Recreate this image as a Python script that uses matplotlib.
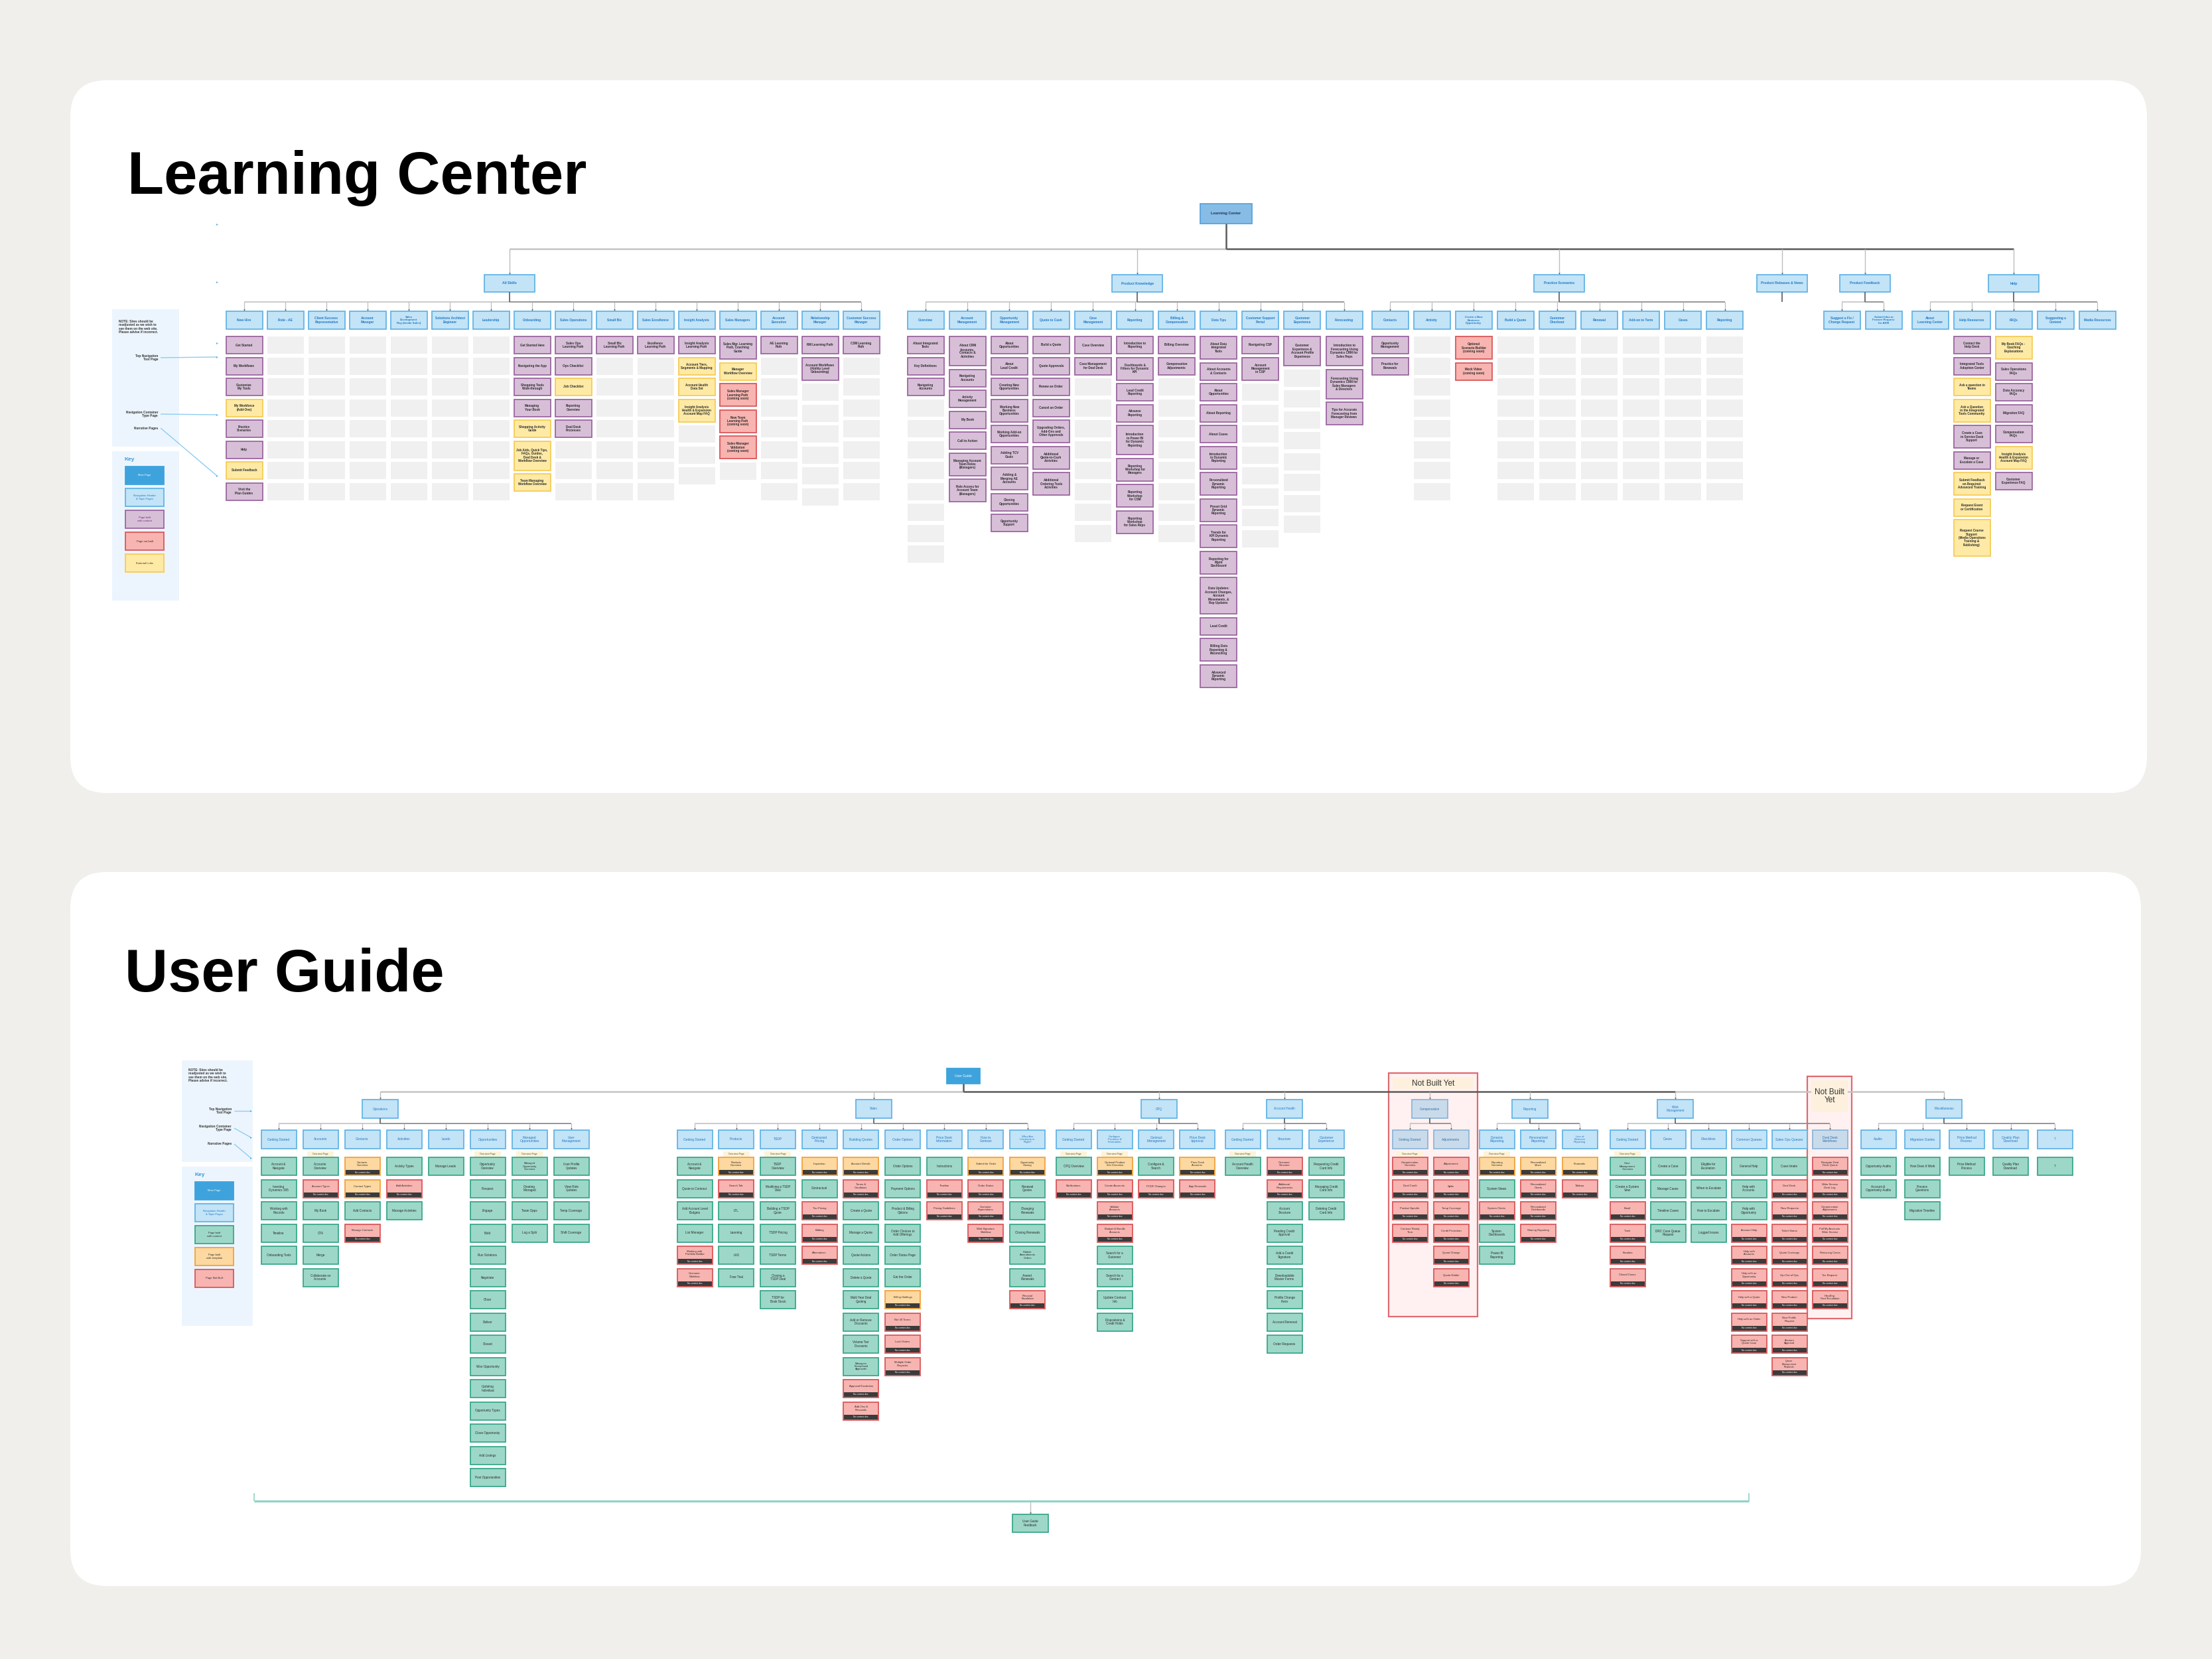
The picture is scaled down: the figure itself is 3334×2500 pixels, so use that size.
import matplotlib
matplotlib.use("Agg")
import matplotlib.pyplot as plt
from matplotlib.patches import Rectangle, FancyBboxPatch

plt.rcParams['font.family'] = ['Liberation Sans', 'DejaVu Sans']

# ---------------------------------------------------------------- data
# item strings are "type|label"; type P=built, Y=external link, R=not built,
# E=empty slot, G=built (user guide), O=built from template
LC_ROOT = "Learning Center"
LC_SECTIONS = ["All Skills", "Product Knowledge", "Practice Scenarios",
               "Product Releases & News", "Product Feedback", "Help"]

AS_TRACKS = ["New Hire", "Role - AE", "Client Success\nRepresentative", "Account\nManager",
             "Sales\nDevelopment\nRep (Inside Sales)", "Solutions Architect\nEngineer", "Leadership",
             "Onboarding", "Sales Operations", "Small Biz", "Sales Excellence", "Insight Analysts",
             "Sales Managers", "Account\nExecutive", "Relationship\nManager", "Customer Success\nManager"]
AS_ITEMS = [
    ["P|Get Started", "P|My Workflows", "P|Customize\nMy Tools", "Y|My Workforce\n(Add-Ons)",
     "P|Practice\nScenarios", "P|Help", "Y|Submit Feedback", "P|Visit the\nPlan Guides"],
    ["E"] * 8, ["E"] * 8, ["E"] * 8, ["E"] * 8, ["E"] * 8, ["E"] * 8,
    ["P|Get Started Here", "P|Navigating the App", "P|Shopping Tools\nWalk-through",
     "P|Managing\nYour Book", "Y|Shopping Activity\nGuide",
     "Y|Job Aids, Quick Tips,\nFAQs, Guides,\nDeal Desk &\nWorkflow Overview",
     "Y|Team Managing\nWorkflow Overview"],
    ["P|Sales Ops\nLearning Path", "P|Ops Checklist", "Y|Job Checklist", "P|Reporting\nOverview",
     "P|Deal Desk\nProcesses", "E", "E", "E"],
    ["P|Small Biz\nLearning Path"] + ["E"] * 7,
    ["P|Excellence\nLearning Path"] + ["E"] * 7,
    ["P|Insight Analysts\nLearning Path", "Y|Account Tiers,\nSegments & Mapping",
     "Y|Account Health\nData Set", "Y|Insight Analysis\nHealth & Expansion\nAccount Map FAQ",
     "E", "E", "E"],
    ["P|Sales Mgr. Learning\nPath, Coaching\nGuide", "Y|Manager\nWorkflow Overview",
     "R|Sales Manager\nLearning Path\n(coming soon)", "R|New Team\nLearning Path\n(coming soon)",
     "R|Sales Manager\nValidation\n(coming soon)", "E"],
    ["P|AE Learning\nPath"] + ["E"] * 7,
    ["P|RM Learning Path", "P|Account Workflows\n(Ability Level\nOnboarding)"] + ["E"] * 6,
    ["P|CSM Learning\nPath"] + ["E"] * 7,
]

PK_TOPICS = ["Overview", "Account\nManagement", "Opportunity\nManagement", "Quote to Cash",
             "Case\nManagement", "Reporting", "Billing &\nCompensation", "Data Tips",
             "Customer Support\nPortal", "Customer\nExperience", "Forecasting"]
PK_ITEMS = [
    ["P|About Integrated\nTools", "P|Key Definitions", "P|Navigating\nAccounts"] + ["E"] * 8,
    ["P|About CRM\nAccounts,\nContacts &\nActivities", "P|Navigating\nAccounts", "P|Activity\nManagement",
     "P|My Book", "P|Call to Action", "P|Managing Account\nTeam Roles\n(Managers)",
     "P|Role Access for\nAccount Team\n(Managers)"],
    ["P|About\nOpportunities", "P|About\nLead Credit", "P|Creating New\nOpportunities",
     "P|Working New\nBusiness\nOpportunities", "P|Working Add-on\nOpportunities", "P|Adding TCV\nGoals",
     "P|Adding &\nMerging AE\nAccounts", "P|Closing\nOpportunities", "P|Opportunity\nSupport"],
    ["P|Build a Quote", "P|Quote Approvals", "P|Renew an Order", "P|Cancel an Order",
     "P|Upgrading Orders,\nAdd-Ons and\nOther Approvals", "P|Additional\nQuote-to-Cash\nActivities",
     "P|Additional\nOrdering Tools\nActivities"],
    ["P|Case Overview", "P|Case Management\nfor Deal Desk"] + ["E"] * 8,
    ["P|Introduction to\nReporting", "P|Dashboards &\nFilters for Dynamic\nKPI", "P|Lead Credit\nReporting",
     "P|Advance\nReporting", "P|Introduction\nto Power BI\nfor Dynamic\nReporting",
     "P|Reporting\nWorkshop for\nManagers", "P|Reporting\nWorkshop\nfor CSM",
     "P|Reporting\nWorkshop\nfor Sales Reps"],
    ["P|Billing Overview", "P|Compensation\nAdjustments"] + ["E"] * 8,
    ["P|About Data\nIntegrated\nTools", "P|About Accounts\n& Contacts", "P|About\nOpportunities",
     "P|About Reporting", "P|About Cases", "P|Introduction\nto Dynamic\nReporting",
     "P|Personalized\nDynamic\nReporting", "P|Preset Grid\nDynamic\nReporting",
     "P|Trends for\nKPI Dynamic\nReporting", "P|Reporting for\nMgmt\nDashboard",
     "P|Data Updates:\nAccount Changes,\nAccount\nMovements, &\nRep Updates", "P|Lead Credit",
     "P|Billing Data\nReporting &\nReconciling", "P|Advanced\nDynamic\nReporting"],
    ["P|Navigating CSP", "P|Account\nManagement\nin CSP"] + ["E"] * 8,
    ["P|Customer\nExperience &\nAccount Profile\nExperience"] + ["E"] * 8,
    ["P|Introduction to\nForecasting Using\nDynamics CRM for\nSales Reps",
     "P|Forecasting Using\nDynamics CRM for\nSales Managers\n& Directors",
     "P|Tips for Accurate\nForecasting from\nManager Reviews"],
]

PS_TOPICS = ["Contacts", "Activity", "Create a New\nBusiness\nOpportunity", "Build a Quote",
             "Customer\nCheckout", "Renewal", "Add-on to Term", "Cases", "Reporting"]
PS_ITEMS = [
    ["P|Opportunity\nManagement", "P|Practice for\nRenewals"],
    ["E"] * 8,
    ["R|Optional\nScenario Builder\n(coming soon)", "R|Mock Video\n(coming soon)"],
    ["E"] * 8, ["E"] * 8, ["E"] * 8, ["E"] * 8, ["E"] * 8, ["E"] * 8,
]

PF_TOPICS = ["Suggest a Fix /\nChange Request", "Submit Idea or\nFeature Request\nfor AEM"]
PF_ITEMS = [[], []]

HELP_TOPICS = ["About\nLearning Center", "Help Resources", "FAQs", "Suggesting a\nContent",
               "Media Resources"]
HELP_ITEMS = [
    [],
    ["P|Contact the\nHelp Desk", "P|Integrated Tools\nAdoption Center", "Y|Ask a question in\nTeams",
     "Y|Ask a Question\nin the Integrated\nTools Community", "P|Create a Case\nin Service Desk\nSupport",
     "P|Manage or\nEscalate a Case", "Y|Submit Feedback\non Required\nAdvanced Training",
     "Y|Request Event\nor Certification",
     "Y|Request Course\nSupport\n(Media Operations\nTraining &\nPublishing)"],
    ["Y|My Book FAQs -\nCoaching\nExplanations", "P|Sales Operations\nFAQs", "P|Data Accuracy\nFAQs",
     "P|Migration FAQ", "P|Compensation\nFAQs", "Y|Insight Analysis\nHealth & Expansion\nAccount Map FAQ",
     "P|Customer\nExperience FAQ"],
    [], [],
]

LC_CHILDREN = [AS_TRACKS, PK_TOPICS, PS_TOPICS, [], PF_TOPICS, HELP_TOPICS]
LC_ITEMS = [AS_ITEMS, PK_ITEMS, PS_ITEMS, [], PF_ITEMS, HELP_ITEMS]

UG_ROOT = "User Guide"
UG_SECTIONS = ["Operations", "Sales", "CPQ", "Account Health", "Compensation", "Reporting",
               "Work\nManagement", "Miscellaneous"]

OPS_TOPICS = ["Getting Started", "Accounts", "Contacts", "Activities", "Leads", "Opportunities",
              "Managed\nOpportunities", "User\nManagement"]
OPS_ITEMS = [
    ["G|Account &\nNavigate", "G|Inserting\nDynamics 365", "G|Working with\nRecords", "G|Timeline",
     "G|Onboarding Tools"],
    ["G|Accounts\nOverview", "R|Account Types", "G|My Book", "G|CTA", "G|Merge",
     "G|Collaborate on\nAccounts"],
    ["O|Contacts\nOverview", "O|Contact Types", "G|Add Contacts", "R|Manage Contacts"],
    ["G|Activity Types", "R|Add Activities", "G|Manage Activities"],
    ["G|Manage Leads"],
    ["G|Opportunity\nOverview", "G|Prospect", "G|Engage", "G|Build", "G|Run Solutions", "G|Negotiate",
     "G|Close", "G|Deliver", "G|Closed", "G|Won Opportunity", "G|Updating\nIndividual",
     "G|Opportunity Types", "G|Close Opportunity", "G|Add Listings", "G|Post Opportunities"],
    ["G|Managed\nOpportunity\nOverview", "G|Creating\nManaged", "G|Team Opps", "G|Log a Split"],
    ["G|User Profile\nUpdates", "G|View Role\nUpdates", "G|Temp Coverage", "G|Shift Coverage"],
]
OPS_OVERVIEW = [0, 1, 0, 0, 0, 1, 1, 0]

SALES_TOPICS = ["Getting Started", "Products", "TSDP", "Contracted\nPricing", "Building Quotes",
                "Order Options", "Price Desk\nInformation", "How to\nContract",
                "What Are\nContracts in\nFlight?"]
SALES_ITEMS = [
    ["G|Account &\nNavigate", "G|Quote to Contract", "G|Add Account Level\nBudgets", "G|List Manager",
     "R|Working with\nPortfolio Builder", "R|Customer\nWorkflow"],
    ["O|Products\nOverview", "R|Search Tab", "G|LTL", "G|Learning", "G|LAS", "G|Free Trial"],
    ["G|TSDP\nOverview", "G|Modifying a TSDP\nDeal", "G|Building a TSDP\nQuote", "G|TSDP Pricing",
     "G|TSDP Terms", "G|Closing a\nTSDP Deal", "G|TSDP for\nBook Stock"],
    ["O|Inspection", "G|Contractual", "R|Tier Pricing", "R|Bidding", "R|Alternatives"],
    ["O|Account Details", "R|Terms &\nConditions", "G|Create a Quote", "G|Manage a Quote",
     "G|Quote Actions", "G|Delete a Quote", "G|Multi Year Deal\nQuoting", "G|Add or Remove\nDiscounts",
     "G|Volume Tier\nDiscounts", "G|Managers\nExceptional\nApprovals", "R|Approval Escalation",
     "R|Add-Ons &\nRenewals"],
    ["G|Order Options", "G|Payment Options", "G|Product & Billing\nOptions",
     "G|Order Choices to\nAdd Offerings", "G|Order Status Page", "G|Get the Order", "O|Billing Holdings",
     "R|Net 30 Terms", "R|Lock Orders", "R|Multiple Order\nRequests"],
    ["G|Instructions", "R|Timeline", "R|Pricing Guidelines"],
    ["O|Submit for Order", "R|Order Status", "R|Customer\nExpectations", "R|Web Signature\nWorkflow"],
    ["O|Opportunity\nClosing", "G|Renewal\nQuotes", "G|Changing\nRenewals", "G|Closing Renewals",
     "G|Publish\nAmendments\nOrders", "G|Amend\nRenewals", "R|Renewal\nEscalation"],
]
SALES_OVERVIEW = [0, 1, 1, 0, 0, 0, 0, 0, 0]

CPQ_TOPICS = ["Getting Started", "Configure\nProducts &\nInformation", "Contract\nManagement",
              "Price Desk\nApproval"]
CPQ_ITEMS = [
    ["G|CPQ Overview", "R|Notifications"],
    ["O|Optional Product\nInfo Overview", "R|Create Accounts", "R|Validate\nAccounts",
     "R|Budget & Bundle\nAccounts", "G|Search for a\nCustomer", "G|Search for a\nContract",
     "G|Update Contract\nInfo", "G|Dispositions &\nCredit Holds"],
    ["G|Configure &\nSearch", "R|PCDF Changes"],
    ["O|Price Desk\nAccounts", "R|App Renewals"],
]
CPQ_OVERVIEW = [1, 1, 0, 0]

AH_TOPICS = ["Getting Started", "Structure", "Customer\nExperience"]
AH_ITEMS = [
    ["G|Account Health\nOverview"],
    ["R|Customer\nStructure", "R|Additional\nRequirements", "G|Account\nStructure",
     "G|Pending Credit\nApproval", "G|Add a Credit\nSignature", "G|Downloadable\nMaster Forms",
     "G|Profile Change\nForm", "G|Account Removal", "G|Order Requests"],
    ["G|Requesting Credit\nCard Info", "G|Managing Credit\nCard Info", "G|Deleting Credit\nCard Info"],
]
AH_OVERVIEW = [1, 0, 0]

COMP_TOPICS = ["Getting Started", "Adjustments"]
COMP_ITEMS = [
    ["R|Compensation\nOverview", "R|Deal Credit", "R|Product Specific", "R|Contract Ready\nTerm"],
    ["R|Adjustments", "R|Splits", "R|Temp Coverage", "R|Credit Protection", "R|Quota Change",
     "R|Quota Holder"],
]
COMP_OVERVIEW = [1, 0]

REP_TOPICS = ["Dynamic\nReporting", "Personalized\nReporting", "Line of\nBusiness\nReporting"]
REP_ITEMS = [
    ["O|Reporting\nOverview", "G|System Views", "R|System Charts", "G|System\nDashboards",
     "G|Power BI\nReporting"],
    ["O|Personalized\nViews", "R|Personalized\nCharts", "R|Personalized\nDashboards",
     "R|Sharing Reporting"],
    ["O|Financials", "R|Tableau"],
]
REP_OVERVIEW = [1, 0, 0]

WM_TOPICS = ["Getting Started", "Cases", "Checklists", "Common Queues", "Sales Ops Queues",
             "Deal Desk\nWorkflows"]
WM_ITEMS = [
    ["G|Case\nManagement\nOverview", "G|Create a System\nView", "R|Email", "R|Track", "R|Escalate",
     "R|Closed Cases"],
    ["G|Create a Case", "G|Manage Cases", "G|Timeline Cases", "G|DRC Case Queue\nRequest"],
    ["G|Eligible for\nEscalation", "G|When to Escalate", "G|How to Escalate", "G|Logged Issues"],
    ["G|General Help", "G|Help with\nAccounts", "G|Help with\nOpportunity", "R|Account Help",
     "R|Help with\nAccounts", "R|Help with an\nOpportunity", "R|Help with a Quote",
     "R|Help with an Order", "R|Support with a\nQuote Issue"],
    ["G|Case Intake", "R|Deal Desk", "R|New Requests", "R|Ticket Status", "R|Quote Coverage",
     "R|Opt Out of Ops", "R|New Product", "R|New Profile\nRequest", "R|Account\nApproval",
     "R|Queue\nManagement\nRequests"],
    ["R|Navigate Deal\nDesk Queue", "R|Write Service\nDesk Log", "R|Compensation\nAdjustments",
     "R|Pull My Accounts\nWrite Service", "R|Reissuing Cases", "R|Tax Request",
     "R|Handling\nDeal Escalation"],
]
WM_OVERVIEW = [1, 0, 0, 0, 0, 0]

MISC_TOPICS = ["Audits", "Migration Guides", "Price Method\nProcess", "Quality Plan\nDownload", "?"]
MISC_ITEMS = [
    ["G|Opportunity Audits", "G|Account &\nOpportunity Audits"],
    ["G|How Does It Work", "G|Process\nQuestions", "G|Migration Timeline"],
    ["G|Price Method\nProcess"], ["G|Quality Plan\nDownload"], ["G|?"],
]
MISC_OVERVIEW = [0, 0, 0, 0, 0]

UG_CHILDREN = [OPS_TOPICS, SALES_TOPICS, CPQ_TOPICS, AH_TOPICS, COMP_TOPICS, REP_TOPICS,
               WM_TOPICS, MISC_TOPICS]
UG_ITEMS = [OPS_ITEMS, SALES_ITEMS, CPQ_ITEMS, AH_ITEMS, COMP_ITEMS, REP_ITEMS, WM_ITEMS, MISC_ITEMS]
UG_OVERVIEW = [OPS_OVERVIEW, SALES_OVERVIEW, CPQ_OVERVIEW, AH_OVERVIEW, COMP_OVERVIEW,
               REP_OVERVIEW, WM_OVERVIEW, MISC_OVERVIEW]
UG_NOT_BUILT = [(4, None), (6, 5)]   # whole section 4, and column 5 of section 6

LC_KEY = [("main", "Main Page"), ("head", "Navigation Header\n& Topic Pages"),
          ("P", "Page built\nwith content"), ("R", "Page not built"), ("Y", "External Links")]
UG_KEY = [("main", "Main Page"), ("head", "Navigation Header\n& Topic Pages"),
          ("G", "Page built\nwith content"), ("O", "Page built\nwith template"), ("R", "Page Not Built")]
NOTE = "NOTE: Sites should be\nreadjusted as we wish to\nsee them on the web site.\nPlease advise if incorrect."

# ---------------------------------------------------------------- styles
STYLE = {
    "main": ("#3ea3dc", "#3ea3dc", "white"),
    "root": ("#86bce6", "#5aa3dd", "#1b3550"),
    "head": ("#c3e3f7", "#63b4e6", "#1f78c4"),
    "gray": ("#c9dbea", "#8db6da", "#2f6fa8"),
    "P": ("#d8bfd8", "#9b679f", "#2a2a2a"),
    "Y": ("#feeaa5", "#f6cc58", "#2a2a2a"),
    "R": ("#f8b4b0", "#d9575b", "#2a2a2a"),
    "E": ("#f0f0f0", None, "#2a2a2a"),
    "G": ("#9dd7c8", "#3aa88b", "#2a2a2a"),
    "O": ("#fdd8a0", "#f1a23b", "#2a2a2a"),
}
BAR = "#3b3b3b"
LIGHT_LINE = "#bdbdbd"
DARK_LINE = "#5a5a5a"
LC_H = {1: 26, 2: 26, 3: 34, 4: 44, 5: 55}
LC_GAP = 5.5

fig = plt.figure(figsize=(33.34, 25), dpi=100, facecolor="#f0efeb")
ax = fig.add_axes([0, 0, 1, 1])
ax.set_xlim(0, 3334)
ax.set_ylim(2500, 0)
ax.axis("off")


def rect(x0, y0, w, h, fc, ec=None, lw=1.3, z=2):
    ax.add_patch(Rectangle((x0, y0), w, h, facecolor=fc, edgecolor=ec if ec else "none",
                           linewidth=lw, zorder=z))


def txt(x, y, s, fs=3.5, color="#2a2a2a", weight="normal", ha="center", va="center", z=6):
    ax.text(x, y, s, fontsize=fs, color=color, fontweight=weight, ha=ha, va=va, zorder=z,
            linespacing=1.1)


def node(xc, y0, w, h, style, s, fs=None, weight="bold"):
    fc, ec, tc = STYLE[style]
    rect(xc - w / 2, y0, w, h, fc, ec)
    if fs is None:
        fs = 3.5 if s.count("\n") < 2 else 3.1
    if s:
        txt(xc, y0 + h / 2, s, fs, tc, weight)


def parse(s):
    if s == "E":
        return "E", ""
    t, lab = s.split("|", 1)
    return t, lab


def line(xs, ys, color=LIGHT_LINE, lw=1.1, z=1):
    ax.plot(xs, ys, color=color, lw=lw, zorder=z, solid_capstyle="butt")


def arrow_tip(x, y):
    ax.plot(x, y - 2.5, marker="v", ms=1.8, color="#555555", zorder=3, mec="none")


def links(px, p_bottom, hy, child_xs, c_top):
    line([px, px], [p_bottom, hy], DARK_LINE, 1.2, 2)
    if not child_xs:
        return
    line([min(child_xs), max(child_xs)], [hy, hy])
    line([px, max(child_xs)], [hy, hy], "#8a8a8a", 1.1)
    for cx in child_xs:
        line([cx, cx], [hy, c_top - 1], LIGHT_LINE, 0.9)
        arrow_tip(cx, c_top)


# ---------------------------------------------------------------- panels
for (x0, y0, x1, y1) in [(106, 121, 3236, 1195), (106, 1314, 3227, 2390)]:
    ax.add_patch(FancyBboxPatch((x0, y0), x1 - x0, y1 - y0,
                                boxstyle="round,pad=0,rounding_size=55",
                                facecolor="white", edgecolor="none", zorder=0))
ax.text(192, 292, "Learning Center", fontsize=65, fontweight="bold", color="black",
        ha="left", va="baseline", zorder=6)
ax.text(188, 1494, "User Guide", fontsize=65, fontweight="bold", color="black",
        ha="left", va="baseline", zorder=6)


def side_panel(x0, x1, y_note, y_key, key_items, notes, note_y, target_x):
    rect(x0, y_note[0], x1 - x0, y_note[1] - y_note[0], "#ecf5fd", None, z=1)
    rect(x0, y_key[0], x1 - x0, y_key[1] - y_key[0], "#ecf5fd", None, z=1)
    txt(x0 + 10, note_y, NOTE, 3.4, "#333333", "bold", ha="left", va="top")
    for (label, ty, ly) in notes:
        txt(x1 - 32, ty, label, 3.4, "#333333", "bold", ha="right")
        line([x1 - 28, target_x], [ty, ly], "#8fcdf0", 1.0, 2)
        ax.plot(target_x, ly, marker=">", ms=2.2, color="#5fb3e8", mec="none", zorder=3)
    txt(x0 + 19, y_key[0] + 12, "Key", 6, "#3a9ad9", "bold", ha="left")
    ky = y_key[0] + 23
    for style, label in key_items:
        fc, ec, tc = STYLE[style]
        if style == "P":
            tc = "#6b2d73"
        rect(x0 + 20, ky, 58, 27, fc, ec)
        txt(x0 + 49, ky + 13.5, label, 3.0, tc)
        ky += 33


# ---------------------------------------------------------------- Learning Center
side_panel(169, 270, (466, 673), (680, 905), LC_KEY,
           [("Top Navigation\nTool Page", 539, 538), ("Navigation Container\nType Page", 624, 625),
            ("Narrative Pages", 645, 717)], 482, 327)
for my in (338, 425, 517):
    ax.plot(327, my, marker=">", ms=2.2, color="#5fb3e8", mec="none", zorder=3)

LC_PARENT_X = [768, 1714, 2350, 2686, 2811, 3035]
LC_CHILD_X0 = [368, 1395, 2095, 0, 2776, 2909]
LC_PITCH = [62, 63.1, 63.1, 63, 63, 63]
root_x = 1848
node(root_x, 307, 78, 30, "root", LC_ROOT, 4.2)
main_y = 375
line([root_x, root_x], [337, main_y], DARK_LINE, 1.8, 2)
line([LC_PARENT_X[0], root_x], [main_y, main_y], "#c4c4c4", 1.8)
line([root_x, LC_PARENT_X[-1]], [main_y, main_y], DARK_LINE, 1.8)

for i, sec in enumerate(LC_SECTIONS):
    px = LC_PARENT_X[i]
    line([px, px], [main_y, 413], LIGHT_LINE, 1.0)
    arrow_tip(px, 414)
    node(px, 414, 76, 26, "head", sec, 3.7)
    kids = LC_CHILDREN[i]
    xs = [LC_CHILD_X0[i] + j * LC_PITCH[i] for j in range(len(kids))]
    links(px, 440, 455, xs, 469)
    for j, kid in enumerate(kids):
        node(xs[j], 469, 55, 27, "head", kid)
        y = 507
        for s in LC_ITEMS[i][j]:
            t, lab = parse(s)
            h = LC_H[lab.count("\n") + 1]
            node(xs[j], y, 55, h, t, lab, 3.3)
            y += h + LC_GAP

# ---------------------------------------------------------------- User Guide
side_panel(274, 381, (1598, 1751), (1758, 1998), UG_KEY,
           [("Top Navigation\nTool Page", 1674, 1674), ("Navigation Container\nType Page", 1700, 1714),
            ("Narrative Pages", 1724, 1745)], 1610, 378)

# not built yet frames
for (x0, y0, x1, y1, title, ty0, ty1) in [(2093, 1617, 2227, 1984, "Not Built Yet", 1624, 1641),
                                         (2724, 1622, 2791, 1987, "Not Built\nYet", 1628, 1676)]:
    rect(x0, y0, x1 - x0, y1 - y0, "#fff1f1", "#df6a6e", 1.6, 0.5)
    rect(x0 + 6, ty0, x1 - x0 - 12, ty1 - ty0, "#fdf0dd", None, z=4)
    txt((x0 + x1) / 2, (ty0 + ty1) / 2, title, 8.5, "#333333", z=5)

UG_PARENT_X = [573, 1317, 1747, 1936, 2155, 2306, 2525, 2930]
UG_CHILD_X0 = [420, 1047, 1618, 1873, 2125, 2256, 2453, 2831]
UG_PITCH = [63, 62.7, 62.3, 63, 62, 62.5, 61, 66.5]
ug_x = 1452
node(ug_x, 1610, 50, 23, "main", UG_ROOT, 3.6, "normal")
ug_y = 1645
line([ug_x, ug_x], [1633, ug_y], DARK_LINE, 1.8, 2)
line([UG_PARENT_X[0], ug_x], [ug_y, ug_y], "#c4c4c4", 1.8)
line([ug_x, UG_PARENT_X[6]], [ug_y, ug_y], DARK_LINE, 1.8)
line([UG_PARENT_X[6], UG_PARENT_X[-1]], [ug_y, ug_y], "#c4c4c4", 1.8)

for i, sec in enumerate(UG_SECTIONS):
    px = UG_PARENT_X[i]
    gray_sec = any(s == i and c is None for s, c in UG_NOT_BUILT)
    line([px, px], [ug_y, 1656], LIGHT_LINE, 1.0)
    arrow_tip(px, 1657)
    node(px, 1657, 54, 28, "gray" if gray_sec else "head", sec, 3.3, "normal")
    kids = UG_CHILDREN[i]
    xs = [UG_CHILD_X0[i] + j * UG_PITCH[i] for j in range(len(kids))]
    links(px, 1685, 1693, xs, 1703)
    for j, kid in enumerate(kids):
        gray = gray_sec or (i, j) in UG_NOT_BUILT
        node(xs[j], 1703, 53, 28, "gray" if gray else "head", kid, None, "normal")
        if UG_OVERVIEW[i][j]:
            rect(xs[j] - 20, 1735, 40, 8, "#fdf3d8", None, z=3)
            txt(xs[j], 1739, "Overview Page", 2.5, "#444444")
        y = 1744
        for s in UG_ITEMS[i][j]:
            t, lab = parse(s)
            if t == "G":
                node(xs[j], y, 53, 27, t, lab, 3.3 if lab.count("\n") < 2 else 3.0, "normal")
            else:
                fc, ec, tc = STYLE[t]
                rect(xs[j] - 26.5, y, 53, 27, fc, ec)
                rect(xs[j] - 25.5, y + 19, 51, 7, BAR, None, z=3)
                txt(xs[j], y + 10, lab, 3.0 if lab.count("\n") < 2 else 2.7, tc)
                txt(xs[j], y + 22.5, "No content doc", 2.4, "white")
            y += 33.5

# feedback bracket
line([383, 2636], [2262, 2262], "#8fd3c4", 2.2, 2)
line([383, 383], [2250, 2262], "#8fd3c4", 1.2, 2)
line([2636, 2636], [2250, 2262], "#8fd3c4", 1.2, 2)
line([1553, 1553], [2263, 2281], LIGHT_LINE, 1.0, 2)
arrow_tip(1553, 2282)
node(1553, 2282, 54, 27, "G", "User Guide\nFeedback", 3.3, "normal")

fig.savefig("out.png", dpi=100, facecolor=fig.get_facecolor())
